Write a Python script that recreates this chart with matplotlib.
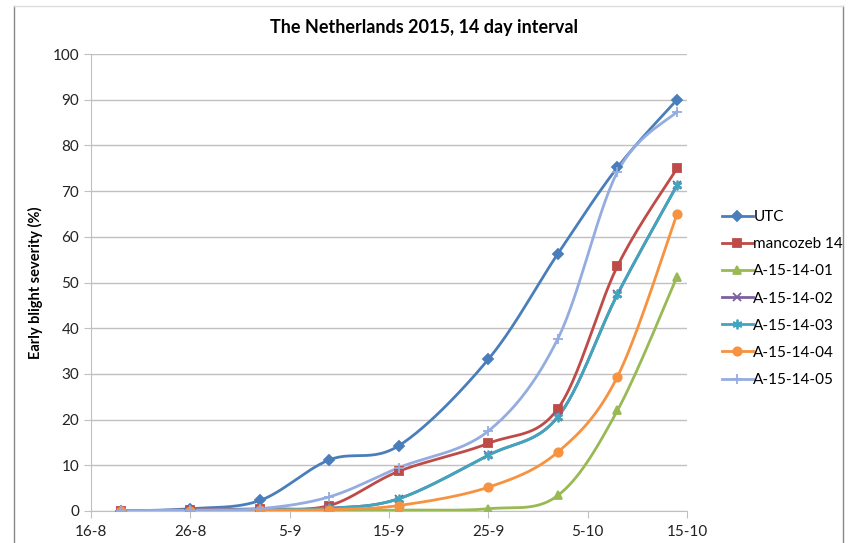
import numpy as np
import pandas as pd
import matplotlib
matplotlib.use("Agg")
import matplotlib.pyplot as plt
import matplotlib.dates as mdates
from matplotlib.lines import Line2D

plt.rcParams['font.family'] = ['Lato', 'DejaVu Sans']

# assessment dates (2015)
dates = ['2015-08-19', '2015-08-26', '2015-09-02', '2015-09-09', '2015-09-16',
         '2015-09-25', '2015-10-02', '2015-10-08', '2015-10-14']

utc = [0, 0.5, 2.3, 11.2, 14.3, 33.2, 56.3, 75.2, 90.0]
mancozeb_14 = [0, 0.2, 0.5, 1.2, 8.7, 14.8, 22.4, 53.6, 75.0]
a_15_14_01 = [0, 0.1, 0.1, 0.1, 0.2, 0.5, 3.4, 22.0, 51.3]
a_15_14_02 = [0, 0.1, 0.3, 0.6, 2.7, 12.2, 20.6, 47.4, 71.3]
a_15_14_03 = [0, 0.1, 0.3, 0.6, 2.7, 12.2, 20.6, 47.4, 71.3]
a_15_14_04 = [0, 0.1, 0.2, 0.3, 1.2, 5.2, 12.9, 29.4, 65.0]
a_15_14_05 = [0, 0.2, 0.5, 3.1, 9.5, 17.5, 37.7, 74.2, 87.4]

series = [
    ('UTC', utc, '#4a7ebb', 'D', 5),
    ('mancozeb 14', mancozeb_14, '#be4b48', 's', 6),
    ('A-15-14-01', a_15_14_01, '#98b954', '^', 6),
    ('A-15-14-02', a_15_14_02, '#7d60a0', 'x', 6),
    ('A-15-14-03', a_15_14_03, '#3fa6be', (6, 2, 0), 7),
    ('A-15-14-04', a_15_14_04, '#f69240', 'o', 6),
    ('A-15-14-05', a_15_14_05, '#94ace0', '+', 7),
]


def smooth(x, y, n=30):
    """Excel style smoothed line (Catmull-Rom through the points)."""
    p = np.column_stack([x, y])
    p = np.vstack([p[0], p, p[-1]])
    out = []
    t = np.linspace(0, 1, n)[:, None]
    for i in range(1, len(p) - 2):
        p0, p1, p2, p3 = p[i - 1], p[i], p[i + 1], p[i + 2]
        c1 = p1 + (p2 - p0) / 6
        c2 = p2 - (p3 - p1) / 6
        seg = ((1 - t) ** 3) * p1 + 3 * ((1 - t) ** 2) * t * c1 + 3 * (1 - t) * t ** 2 * c2 + t ** 3 * p2
        out.append(seg)
    out = np.vstack(out)
    return out[:, 0], out[:, 1]


xd = mdates.date2num(pd.to_datetime(dates))

fig = plt.figure(figsize=(8.48, 5.43), dpi=100)
ax = fig.add_axes([91 / 848, 1 - 511 / 543, (687 - 91) / 848, (511 - 54) / 543])

handles = []
for name, vals, col, mk, ms in series:
    sx, sy = smooth(xd, np.array(vals, dtype=float))
    ax.plot(sx, sy, color=col, lw=2, zorder=3)
    ax.plot(xd, vals, ls='none', marker=mk, color=col, ms=ms, mew=1.3, zorder=4)
    handles.append(Line2D([], [], color=col, lw=2, marker=mk, ms=ms, mew=1.3, label=name))

x0 = mdates.date2num(pd.Timestamp('2015-08-16'))
ax.set_xlim(x0, x0 + 60)
ax.set_xticks([x0 + 10 * k for k in range(7)])
ax.xaxis.set_major_formatter(mdates.DateFormatter('%-d-%-m'))
ax.set_ylim(0, 100)
ax.set_yticks(range(0, 101, 10))

ax.grid(axis='y', color='#c0c0c0', lw=1)
ax.set_axisbelow(True)
for s in ['top', 'right']:
    ax.spines[s].set_visible(False)
for s in ['left', 'bottom']:
    ax.spines[s].set_color('#c0c0c0')
ax.tick_params(axis='both', colors='#c0c0c0', labelcolor='#222222', labelsize=11, length=5)
ax.tick_params(axis='x', pad=5)

ax.set_ylabel('Early blight severity (%)', fontsize=10.5, fontweight='bold', labelpad=7)
fig.text(0.5, 1 - 28 / 543, 'The Netherlands 2015, 14 day interval',
         ha='center', va='center', fontsize=13, fontweight='bold')

fig.legend(handles=handles, loc='upper left', bbox_to_anchor=(716 / 848, 1 - 204 / 543),
           frameon=False, fontsize=11, handlelength=2.0, handletextpad=0.05,
           labelspacing=0.86, borderaxespad=0)

# chart area border
fig.add_artist(Line2D([14 / 848, 14 / 848], [0, 1 - 6 / 543], transform=fig.transFigure, color='#888888', lw=1))
fig.add_artist(Line2D([843 / 848, 843 / 848], [0, 1 - 6 / 543], transform=fig.transFigure, color='#888888', lw=1))
fig.add_artist(Line2D([14 / 848, 843 / 848], [1 - 6 / 543, 1 - 6 / 543], transform=fig.transFigure, color='#dddddd', lw=1))

fig.savefig('out.png', dpi=100)
